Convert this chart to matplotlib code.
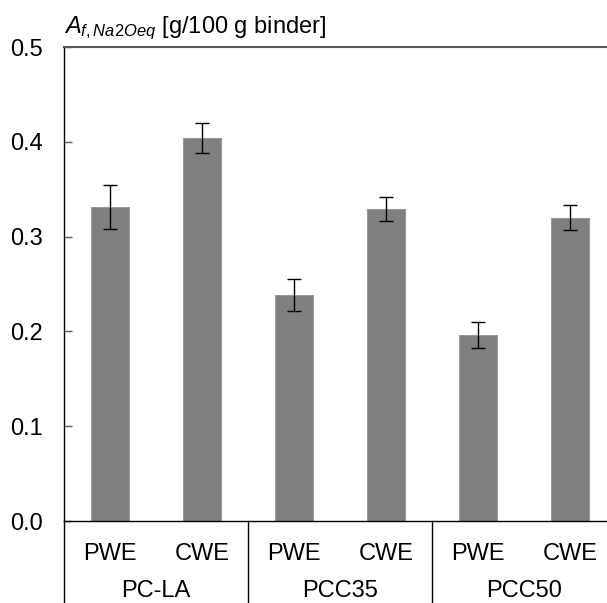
import matplotlib
matplotlib.use('Agg')
import matplotlib.pyplot as plt
import matplotlib.transforms as mtransforms

plt.rcParams['font.family'] = ['Liberation Sans', 'DejaVu Sans']
plt.rcParams['mathtext.fontset'] = 'custom'
plt.rcParams['mathtext.rm'] = 'Liberation Sans'
plt.rcParams['mathtext.it'] = 'Liberation Sans:italic'

# data
groups = ['PC-LA', 'PCC35', 'PCC50']
methods = ['PWE', 'CWE']
values = [0.331, 0.404, 0.238, 0.329, 0.196, 0.320]
errors = [0.023, 0.016, 0.017, 0.013, 0.014, 0.013]
yticks = [0.0, 0.1, 0.2, 0.3, 0.4, 0.5]

fig = plt.figure(figsize=(6.07, 6.03), dpi=100)
ax = fig.add_axes([64 / 607, 82 / 603, 552 / 607, 474 / 603])

x = list(range(len(values)))
ax.bar(x, values, width=0.41, color='#808080', edgecolor='#9a9a9a', linewidth=0.8,
       yerr=errors, capsize=5, error_kw=dict(ecolor='black', elinewidth=1.0, capthick=1.0))

ax.set_xlim(-0.5, len(values) - 0.5)
ax.set_ylim(0, 0.5)
ax.set_yticks(yticks)
ax.set_yticklabels(['%.1f' % t for t in yticks], fontsize=17)
ax.tick_params(axis='y', direction='in', length=6, width=1, pad=15, color='#595959')
ax.set_xticks([])

ax.spines['right'].set_visible(False)
ax.spines['top'].set_color('#595959')
ax.spines['top'].set_linewidth(1.5)
ax.spines['left'].set_color('black')
ax.spines['left'].set_linewidth(1)
ax.spines['bottom'].set_color('black')
ax.spines['bottom'].set_linewidth(1)

# two level category labels
trans = mtransforms.blended_transform_factory(ax.transData, ax.transAxes)
for i in x:
    ax.text(i, -0.070, methods[i % 2], transform=trans, ha='center', va='center', fontsize=17)
for g, name in enumerate(groups):
    ax.text(2 * g + 0.5, -0.148, name, transform=trans, ha='center', va='center', fontsize=17)
for s in [-0.5, 1.5, 3.5, 5.5]:
    ax.plot([s, s], [0, -0.2], transform=trans, color='black', linewidth=1, clip_on=False)

fig.text(64 / 607, 1 - 33 / 603, r'$A_{\mathit{f,Na2Oeq}}$ [g/100 g binder]', fontsize=17,
         ha='left', va='baseline')

fig.savefig('out.png', dpi=100)
